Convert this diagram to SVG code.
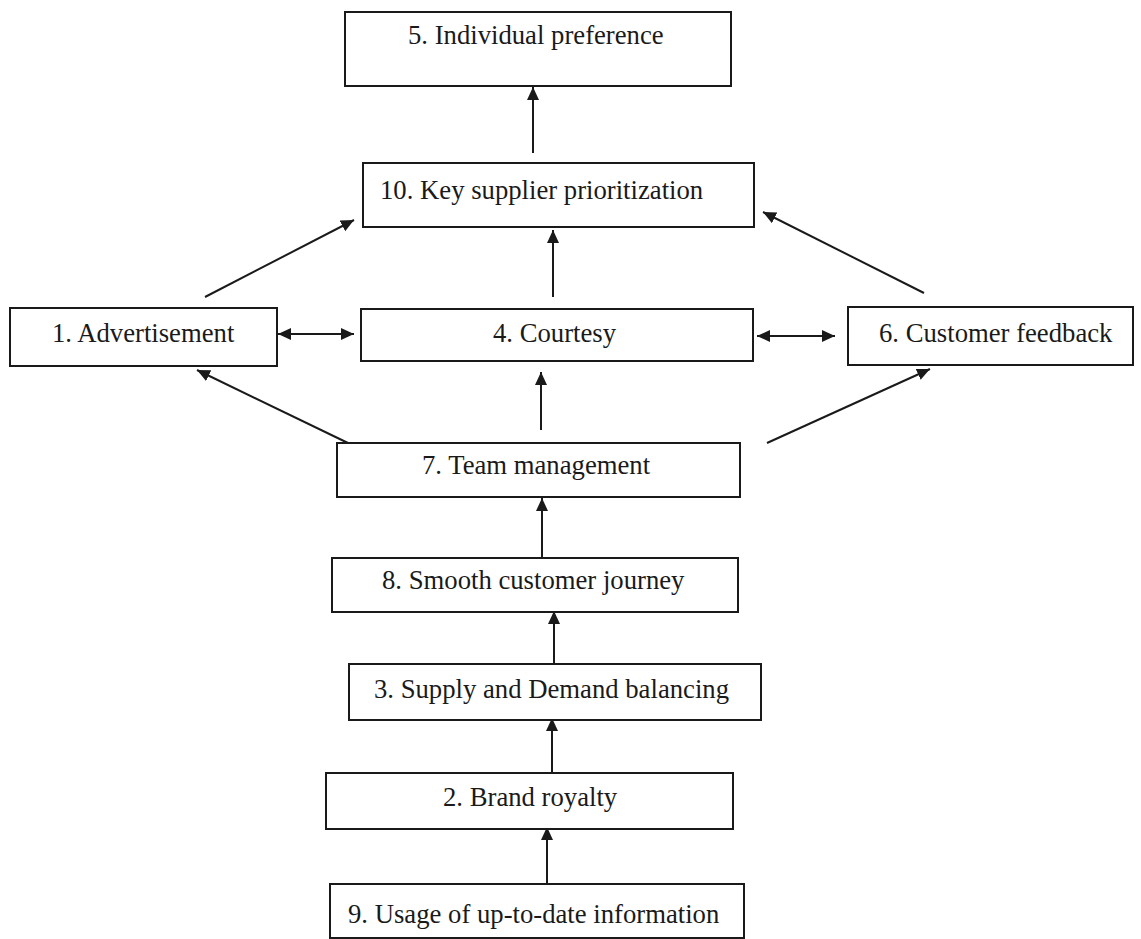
<svg xmlns="http://www.w3.org/2000/svg" width="1141" height="939" viewBox="0 0 1141 939">
<style>
.box{fill:#fff;stroke:#1a1a1a;stroke-width:2}
.lbl{font-family:"Liberation Serif","Times New Roman",serif;font-size:26.7px;fill:#1a1a1a}
.con{stroke:#1a1a1a;stroke-width:2;fill:none;marker-end:url(#ah)}
.dbl{marker-start:url(#ah)}
</style>
<defs>
<marker id="ah" markerUnits="userSpaceOnUse" markerWidth="14" markerHeight="13" refX="13" refY="6" orient="auto-start-reverse">
<path d="M0,0 L13,6 L0,12 z" fill="#1a1a1a"/>
</marker>
</defs>
<rect width="1141" height="939" fill="#fff"/>
<g id="connectors">
<line class="con" x1="533" y1="153" x2="533" y2="87"/>
<line class="con" x1="205" y1="297" x2="354" y2="220"/>
<line class="con" x1="553" y1="297" x2="553" y2="230"/>
<line class="con" x1="924" y1="293" x2="763" y2="212"/>
<line class="con dbl" x1="278" y1="334" x2="354" y2="334"/>
<line class="con dbl" x1="757" y1="336" x2="835" y2="336"/>
<line class="con" x1="348" y1="443" x2="197" y2="370"/>
<line class="con" x1="541" y1="430" x2="541" y2="372"/>
<line class="con" x1="767" y1="443" x2="930" y2="369"/>
<line class="con" x1="542" y1="557" x2="542" y2="498"/>
<line class="con" x1="554" y1="664" x2="554" y2="611"/>
<line class="con" x1="552" y1="773" x2="552" y2="718"/>
<line class="con" x1="547" y1="884" x2="547" y2="827"/>
</g>
<g id="n5"><rect class="box" x="345" y="12" width="386" height="74"/><text class="lbl" x="408" y="44">5. Individual preference</text></g>
<g id="n10"><rect class="box" x="363" y="163" width="391" height="64"/><text class="lbl" x="380" y="199">10. Key supplier prioritization</text></g>
<g id="n1"><rect class="box" x="10" y="308" width="267" height="58"/><text class="lbl" x="52" y="342">1. Advertisement</text></g>
<g id="n4"><rect class="box" x="361" y="309" width="392" height="52"/><text class="lbl" x="493" y="342">4. Courtesy</text></g>
<g id="n6"><rect class="box" x="848" y="307" width="285" height="58"/><text class="lbl" x="879" y="342">6. Customer feedback</text></g>
<g id="n7"><rect class="box" x="337" y="443" width="403" height="54"/><text class="lbl" x="422" y="474">7. Team management</text></g>
<g id="n8"><rect class="box" x="332" y="558" width="406" height="54"/><text class="lbl" x="382" y="589">8. Smooth customer journey</text></g>
<g id="n3"><rect class="box" x="349" y="664" width="412" height="56"/><text class="lbl" x="374" y="698">3. Supply and Demand balancing</text></g>
<g id="n2"><rect class="box" x="326" y="773" width="407" height="56"/><text class="lbl" x="443" y="806">2. Brand royalty</text></g>
<g id="n9"><rect class="box" x="330" y="884" width="414" height="54"/><text class="lbl" x="348" y="923">9. Usage of up-to-date information</text></g>
</svg>
